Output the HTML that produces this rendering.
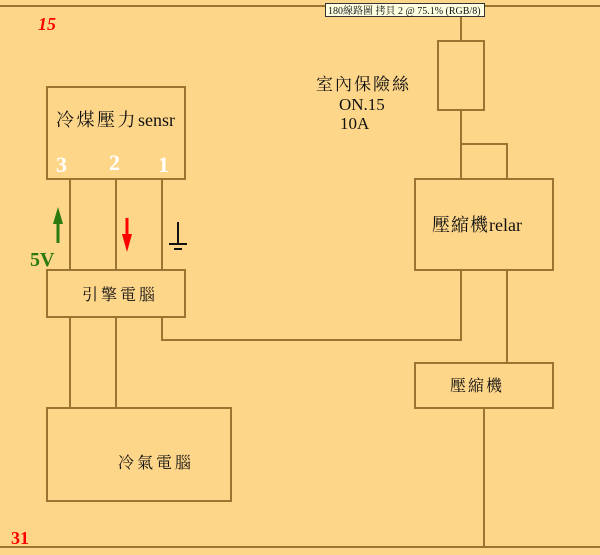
<!DOCTYPE html>
<html><head><meta charset="utf-8"><style>
html,body{margin:0;padding:0;width:600px;height:555px;overflow:hidden;background:#FED68A}
svg{display:block}
text{font-family:"Liberation Serif","Noto Serif CJK SC","Noto Sans CJK TC",serif;fill:#111}
</style></head><body>
<svg width="600" height="555" viewBox="0 0 600 555" xmlns="http://www.w3.org/2000/svg">
<rect width="600" height="555" fill="#FED68A"/>
<g stroke="#9A7430" stroke-width="2" fill="none">
<line x1="0" y1="6" x2="600" y2="6"/>
<line x1="0" y1="547" x2="600" y2="547"/>
<rect x="47" y="87" width="138" height="92"/>
<rect x="47" y="270" width="138" height="47"/>
<rect x="47" y="408" width="184" height="93"/>
<rect x="438" y="41" width="46" height="69"/>
<rect x="415" y="179" width="138" height="91"/>
<rect x="415" y="363" width="138" height="45"/>
<line x1="70" y1="179" x2="70" y2="270"/>
<line x1="116" y1="179" x2="116" y2="270"/>
<line x1="162" y1="179" x2="162" y2="270"/>
<line x1="70" y1="317" x2="70" y2="408"/>
<line x1="116" y1="317" x2="116" y2="408"/>
<polyline points="162,317 162,340 461,340 461,270"/>
<line x1="461" y1="6" x2="461" y2="41"/>
<line x1="461" y1="110" x2="461" y2="179"/>
<polyline points="461,144 507,144 507,179"/>
<line x1="507" y1="270" x2="507" y2="363"/>
<line x1="484" y1="408" x2="484" y2="547"/>
</g>
<g stroke="#111" stroke-width="2">
<line x1="178" y1="222" x2="178" y2="244"/>
<line x1="169" y1="244" x2="187" y2="244"/>
<line x1="174" y1="249" x2="182" y2="249"/>
</g>
<line x1="58" y1="243" x2="58" y2="222" stroke="#2A7A10" stroke-width="3"/>
<polygon points="58,207 53,224 63,224" fill="#2A7A10"/>
<line x1="127" y1="218" x2="127" y2="236" stroke="#F00" stroke-width="3"/>
<polygon points="127,252 122,234 132,234" fill="#F00"/>
<text x="38" y="30" font-family="Liberation Sans,sans-serif" font-size="18" font-weight="bold" font-style="italic" style="fill:#F00">15</text>
<text x="11" y="544" font-family="Liberation Sans,sans-serif" font-size="18" font-weight="bold" style="fill:#F00">31</text>
<text x="30" y="266" font-family="Liberation Mono,monospace" font-size="20" font-weight="bold" style="fill:#2A7A10">5V</text>
<text x="56" y="172" font-family="Liberation Sans,sans-serif" font-size="22" font-weight="bold" style="fill:#fff">3</text>
<text x="109" y="170" font-family="Liberation Sans,sans-serif" font-size="22" font-weight="bold" style="fill:#fff">2</text>
<text x="158" y="172" font-family="Liberation Sans,sans-serif" font-size="22" font-weight="bold" style="fill:#fff">1</text>
<text x="56" y="126" font-size="18"><tspan letter-spacing="2.5">冷煤壓力</tspan>sensr</text>
<text x="82" y="300" font-size="16" letter-spacing="3">引擎電腦</text>
<text x="118" y="468" font-size="16" letter-spacing="3">冷氣電腦</text>
<text x="432" y="231" font-size="18"><tspan letter-spacing="1">壓縮機</tspan>relar</text>
<text x="450" y="391" font-size="16" letter-spacing="2">壓縮機</text>
<text x="316" y="90" font-size="17" letter-spacing="2">室內保險絲</text>
<text x="339" y="110" font-size="17">ON.15</text>
<text x="340" y="129" font-size="17">10A</text>
<rect x="325.5" y="3.5" width="159" height="13" fill="#FFFFE1" stroke="#333" stroke-width="1"/>
<text x="328" y="14" font-family="Liberation Sans,'Noto Sans CJK TC',sans-serif" font-size="10">180線路圖 拷貝 2 @ 75.1% (RGB/8)</text>
</svg>
</body></html>
